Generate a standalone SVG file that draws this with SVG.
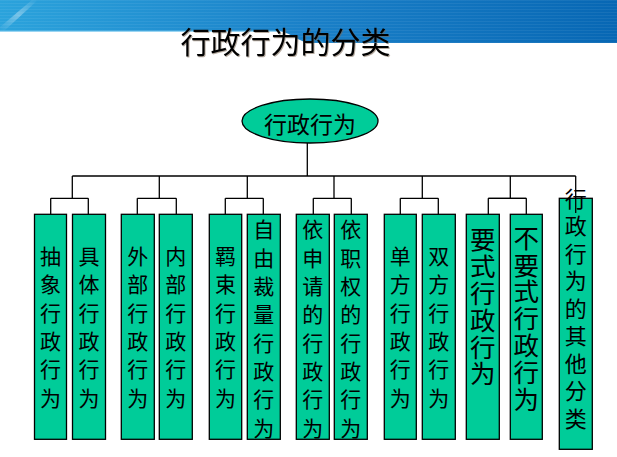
<svg xmlns="http://www.w3.org/2000/svg" width="617" height="457" viewBox="0 0 617 457">
<defs>
<linearGradient id="bannerGrad" x1="0" y1="0" x2="1" y2="0">
<stop offset="0" stop-color="#2ba3dc"/>
<stop offset="0.5" stop-color="#1a80c8"/>
<stop offset="1" stop-color="#0767b4"/>
</linearGradient>
<pattern id="stripes" width="8" height="3" patternUnits="userSpaceOnUse">
<rect width="8" height="1" fill="#ffffff" fill-opacity="0.06"/>
</pattern>
<linearGradient id="streak" x1="0" y1="1" x2="1" y2="0">
<stop offset="0" stop-color="#ffffff" stop-opacity="0"/>
<stop offset="0.5" stop-color="#ffffff" stop-opacity="0.35"/>
<stop offset="1" stop-color="#ffffff" stop-opacity="0"/>
</linearGradient>
</defs>
<style>
.node{fill:#00cc99;stroke:#000;stroke-width:1.3}
.conn line{stroke:#000;stroke-width:1.3}
.t{font-family:"Noto Sans CJK SC","Noto Sans CJK TC",sans-serif;fill:#000;text-anchor:middle}
.v{font-family:"Noto Sans CJK SC","Noto Sans CJK TC",sans-serif;fill:#000;writing-mode:vertical-rl;text-orientation:upright;text-anchor:start}
.s21{font-size:21px;letter-spacing:7.3px}
.s26{font-size:25.5px;letter-spacing:1.3px}
.s22{font-size:22px;letter-spacing:5.5px}
</style>
<rect width="617" height="457" fill="#ffffff"/>
<g id="banner">
<path d="M0 0 H617 V43 H313 C298 43 290 31 277 31 H0 Z" fill="url(#bannerGrad)"/>
<path d="M0 0 H617 V43 H313 C298 43 290 31 277 31 H0 Z" fill="url(#stripes)"/>
<path d="M0 27 L32 0 L38 0 L4 31 H0 Z" fill="url(#streak)"/>
<rect x="0" y="30.5" width="280" height="1.5" fill="#6fc3ec" fill-opacity="0.7"/>
</g>
<g id="title">
<text class="t" x="285.5" y="53" font-size="30" style="filter:drop-shadow(1.5px 1.5px 0 rgba(120,100,80,0.55))">行政行为的分类</text>
</g>
<g id="root">
<ellipse class="node" cx="310" cy="121" rx="68" ry="22"/>
<text class="t" x="310" y="132.5" font-size="23">行政行为</text>
</g>
<g id="n1"><rect class="node" x="34.5" y="214.3" width="32" height="225"/>
<text class="v s21" x="50.5" y="245.6">抽象行政行为</text></g>
<g id="n2"><rect class="node" x="72.5" y="214.3" width="33" height="225"/>
<text class="v s21" x="89" y="245.6">具体行政行为</text></g>
<g id="n3"><rect class="node" x="121.3" y="214.3" width="33" height="225"/>
<text class="v s21" x="137.8" y="245.6">外部行政行为</text></g>
<g id="n4"><rect class="node" x="159.3" y="214.3" width="33" height="225"/>
<text class="v s21" x="175.8" y="245.6">内部行政行为</text></g>
<g id="n5"><rect class="node" x="209.3" y="214.3" width="32.4" height="225"/>
<text class="v s21" x="225.5" y="245.6">羁束行政行为</text></g>
<g id="n6"><rect class="node" x="247.3" y="214.3" width="33" height="225"/>
<text class="v s21" x="263.8" y="219">自由裁量行政行为</text></g>
<g id="n7"><rect class="node" x="296.3" y="214.3" width="33" height="225"/>
<text class="v s21" x="312.8" y="219">依申请的行政行为</text></g>
<g id="n8"><rect class="node" x="334.3" y="214.3" width="33" height="225"/>
<text class="v s21" x="350.8" y="219">依职权的行政行为</text></g>
<g id="n9"><rect class="node" x="384.3" y="214.3" width="32" height="225"/>
<text class="v s21" x="400.3" y="245.6">单方行政行为</text></g>
<g id="n10"><rect class="node" x="422.3" y="214.3" width="33" height="225"/>
<text class="v s21" x="438.8" y="245.6">双方行政行为</text></g>
<g id="n11"><rect class="node" x="466.3" y="214.3" width="33" height="225"/>
<text class="v s26" x="482.8" y="227">要式行政行为</text></g>
<g id="n12"><rect class="node" x="510.3" y="214.3" width="32" height="225"/>
<text class="v s26" x="526.3" y="225.4">不要式行政行为</text></g>
<g id="n13"><rect class="node" x="559.3" y="198.3" width="33" height="251"/>
<text class="v s22" x="575.8" y="187.2">行政行为的其他分类</text></g>
<g id="connectors" class="conn">
<line x1="307.3" y1="143" x2="307.3" y2="176"/>
<line x1="72.3" y1="176" x2="575.7" y2="176"/>
<line x1="72.3" y1="176" x2="72.3" y2="198.3"/>
<line x1="159.3" y1="176" x2="159.3" y2="198.3"/>
<line x1="247.3" y1="176" x2="247.3" y2="198.3"/>
<line x1="334" y1="176" x2="334" y2="198.3"/>
<line x1="422.3" y1="176" x2="422.3" y2="198.3"/>
<line x1="510.3" y1="176" x2="510.3" y2="198.3"/>
<line x1="575.7" y1="176" x2="575.7" y2="213"/>
<line x1="50.7" y1="198.3" x2="88.3" y2="198.3"/>
<line x1="137.3" y1="198.3" x2="176.3" y2="198.3"/>
<line x1="225.3" y1="198.3" x2="263.3" y2="198.3"/>
<line x1="313.3" y1="198.3" x2="351.3" y2="198.3"/>
<line x1="400.3" y1="198.3" x2="438.3" y2="198.3"/>
<line x1="488.3" y1="198.3" x2="526.3" y2="198.3"/>
<line x1="50.7" y1="198.3" x2="50.7" y2="214.3"/>
<line x1="88.3" y1="198.3" x2="88.3" y2="214.3"/>
<line x1="137.3" y1="198.3" x2="137.3" y2="214.3"/>
<line x1="176.3" y1="198.3" x2="176.3" y2="214.3"/>
<line x1="225.3" y1="198.3" x2="225.3" y2="214.3"/>
<line x1="263.3" y1="198.3" x2="263.3" y2="214.3"/>
<line x1="313.3" y1="198.3" x2="313.3" y2="214.3"/>
<line x1="351.3" y1="198.3" x2="351.3" y2="214.3"/>
<line x1="400.3" y1="198.3" x2="400.3" y2="214.3"/>
<line x1="438.3" y1="198.3" x2="438.3" y2="214.3"/>
<line x1="488.3" y1="198.3" x2="526.3" y2="198.3"/>
<line x1="488.3" y1="198.3" x2="488.3" y2="214.3"/>
<line x1="526.3" y1="198.3" x2="526.3" y2="214.3"/>
</g>
</svg>
